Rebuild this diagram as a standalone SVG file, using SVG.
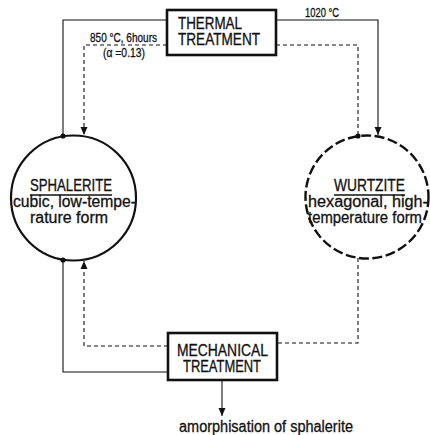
<svg xmlns="http://www.w3.org/2000/svg" width="430" height="435" viewBox="0 0 430 435">
<style>
text{font-family:"Liberation Sans",Arial,sans-serif;fill:#111;stroke:#111;stroke-width:0.3}
.box{fill:#fff;stroke:#111;stroke-width:2.6}
.big{font-size:16px}
.mid{font-size:16px}
.sm{font-size:13px}
.solid{fill:none;stroke:#111;stroke-width:1.1}
.dash{fill:none;stroke:#111;stroke-width:1.1;stroke-dasharray:4,3}
.dot{fill:#111}
</style>
<defs>
<marker id="arr" viewBox="0 0 8 10" refX="8" refY="5" markerWidth="8" markerHeight="10" markerUnits="userSpaceOnUse" orient="auto">
<path d="M0,1.5 L8,5 L0,8.5 Z" fill="#111"/>
</marker>
</defs>
<g id="connectors">
<polyline class="solid" points="167,20 63,20 63,136"/>
<polyline class="dash" points="167,45 84,45 84,135" marker-end="url(#arr)"/>
<polyline class="solid" points="276,20 378,20 378,135" marker-end="url(#arr)"/>
<polyline class="dash" points="276,45 358,45 358,136"/>
<polyline class="dash" points="358,258 358,343 277,343"/>
<polyline class="solid" points="168,372 63,372 63,260"/>
<polyline class="dash" points="168,346 84,346 84,261" marker-end="url(#arr)"/>
<line class="solid" x1="222" y1="380" x2="222" y2="416" marker-end="url(#arr)"/>
<circle class="dot" cx="63" cy="136" r="2.6"/>
<circle class="dot" cx="358" cy="136" r="2.6"/>
<circle class="dot" cx="63" cy="260" r="2.6"/>
<text class="sm" x="90" y="42" textLength="67" lengthAdjust="spacingAndGlyphs">850 °C, 6hours</text>
<text class="sm" x="103" y="57" textLength="42" lengthAdjust="spacingAndGlyphs">(α =0.13)</text>
<text class="sm" x="305" y="17" textLength="34" lengthAdjust="spacingAndGlyphs">1020 °C</text>
<text class="mid" x="179" y="432" textLength="174" lengthAdjust="spacingAndGlyphs">amorphisation of sphalerite</text>
</g>
<g id="thermal">
<rect class="box" x="167" y="10" width="109" height="45"/>
<text class="big" x="178" y="29" textLength="64" lengthAdjust="spacingAndGlyphs">THERMAL</text>
<text class="big" x="178" y="45" textLength="82" lengthAdjust="spacingAndGlyphs">TREATMENT</text>
</g>
<g id="mechanical">
<rect class="box" x="168" y="333" width="109" height="47"/>
<text class="big" x="177" y="356" textLength="91" lengthAdjust="spacingAndGlyphs">MECHANICAL</text>
<text class="big" x="183" y="372" textLength="78" lengthAdjust="spacingAndGlyphs">TREATMENT</text>
</g>
<g id="sphalerite">
<circle cx="73.5" cy="198" r="62.5" fill="none" stroke="#111" stroke-width="2.2"/>
<text class="mid" x="30" y="191" textLength="82" lengthAdjust="spacingAndGlyphs">SPHALERITE</text>
<line x1="30" y1="195" x2="112" y2="195" stroke="#111" stroke-width="1.4"/>
<text class="mid" x="13" y="207" textLength="123" lengthAdjust="spacingAndGlyphs">cubic, low-tempe-</text>
<text class="mid" x="30" y="223" textLength="78" lengthAdjust="spacingAndGlyphs">rature form</text>
</g>
<g id="wurtzite">
<circle cx="367" cy="197" r="61.5" fill="none" stroke="#111" stroke-width="2.4" stroke-dasharray="10,3.5"/>
<text class="mid" x="334" y="191" textLength="71" lengthAdjust="spacingAndGlyphs">WURTZITE</text>
<line x1="334" y1="195" x2="405" y2="195" stroke="#111" stroke-width="1.4"/>
<text class="mid" x="308" y="207" textLength="120" lengthAdjust="spacingAndGlyphs">hexagonal, high-</text>
<text class="mid" x="308" y="223" textLength="114" lengthAdjust="spacingAndGlyphs">temperature form</text>
</g>
</svg>
